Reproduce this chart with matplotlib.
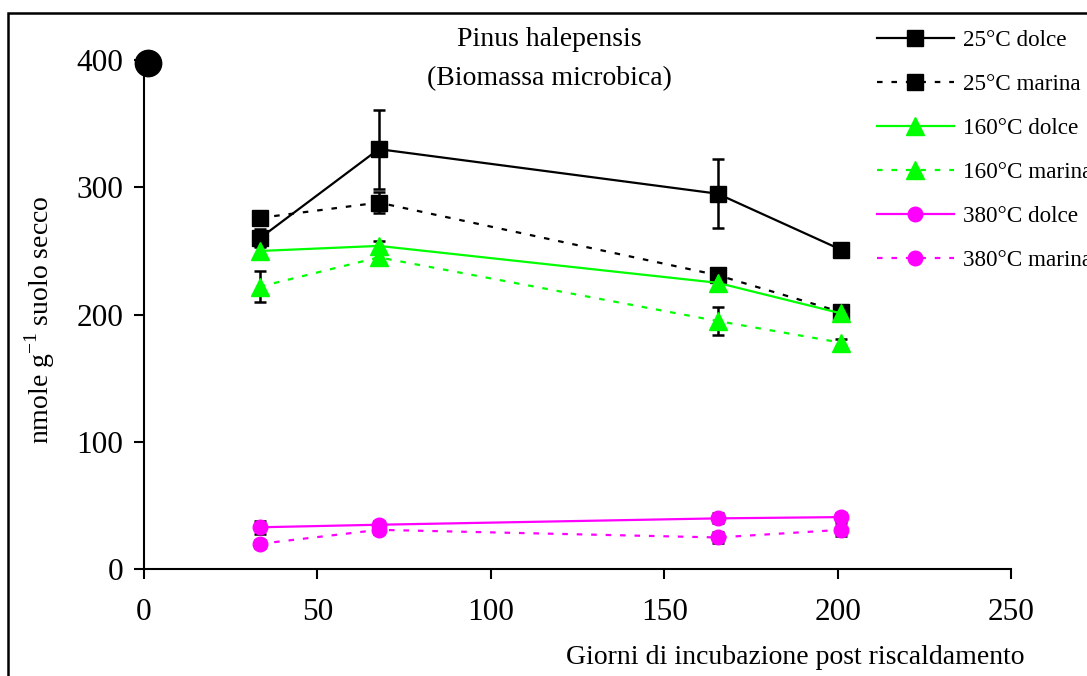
import matplotlib
matplotlib.use("Agg")
import matplotlib.pyplot as plt
from matplotlib.patches import Rectangle

plt.rcParams['font.family'] = ['Liberation Serif', 'DejaVu Serif']
plt.rcParams['mathtext.fontset'] = 'custom'
plt.rcParams['mathtext.rm'] = 'Liberation Serif'

days = [33.4, 67.7, 165.4, 201.0]
control_day = [1.2]
control_val = [398]

series_names = ["25°C dolce", "25°C marina", "160°C dolce", "160°C marina",
                "380°C dolce", "380°C marina"]
v25_dolce = [260, 330, 295, 251]
e25_dolce = [7, 31, 27, 3]
v25_marina = [276, 288, 231, 202]
e25_marina = [4, 8, 4, 3]
v160_dolce = [250, 254, 225, 201]
e160_dolce = [4, 4, 3, 3]
v160_marina = [222, 245, 195, 178]
e160_marina = [12, 5, 11, 3]
v380_dolce = [33, 35, 40, 41]
e380_dolce = [5, 3, 4, 3]
v380_marina = [20, 31, 25, 31]
e380_marina = [3, 3, 4, 5]

values = [v25_dolce, v25_marina, v160_dolce, v160_marina, v380_dolce, v380_marina]
errors = [e25_dolce, e25_marina, e160_dolce, e160_marina, e380_dolce, e380_marina]
colors = ['black', 'black', '#00FF00', '#00FF00', '#FF00FF', '#FF00FF']
markers = ['s', 's', '^', '^', 'o', 'o']
msizes = [11, 11, 12.5, 12.5, 10.5, 10.5]
dotted = (0, (2.5, 4))
styles = ['-', dotted, '-', dotted, '-', dotted]

fig = plt.figure(figsize=(10.87, 6.76), dpi=100)
ax = fig.add_axes([144/1087, 1-569.3/676, (1011-144)/1087, (569.3-60)/676])

handles = []
for name, v, e, c, m, ms, ls in zip(series_names, values, errors, colors, markers, msizes, styles):
    ax.errorbar(days, v, yerr=e, fmt='none', ecolor='black', elinewidth=1.8,
                capsize=4.5, capthick=1.8, zorder=2)
    h, = ax.plot(days, v, color=c, linestyle=ls, linewidth=1.6, marker=m,
                 markersize=ms, markerfacecolor=c, markeredgecolor=c, label=name, zorder=3)
    handles.append(h)

ax.plot(control_day, control_val, 'o', color='black', markersize=19, zorder=4, clip_on=False)

ax.set_xlim(0, 250)
ax.set_ylim(0, 400)
ax.set_xticks([0, 50, 100, 150, 200, 250])
ax.set_yticks([0, 100, 200, 300, 400])
for s in ['top', 'right']:
    ax.spines[s].set_visible(False)
for s in ['left', 'bottom']:
    ax.spines[s].set_linewidth(1.5)
ax.tick_params(axis='both', direction='out', length=7, width=1.5, labelsize=22.5, pad=8)
ax.tick_params(axis='x', pad=14)

fig.text(549/1087, 1-40/676, "Pinus halepensis", ha='center', va='center', fontsize=20)
fig.text(549/1087, 1-79/676, "(Biomassa microbica)", ha='center', va='center', fontsize=20)
fig.text(1025/1087, 1-658/676, "Giorni di incubazione post riscaldamento",
         ha='right', va='center', fontsize=20)
fig.text(40/1087, 1-320/676, "nmole g$^{-1}$ suolo secco", rotation=90,
         ha='center', va='center', fontsize=20)

leg = fig.legend(handles=handles, loc='upper left', bbox_to_anchor=(877/1087, 1-30/676),
                 frameon=False, fontsize=16.7, handlelength=3.3, handletextpad=0.4,
                 labelspacing=0.98, borderaxespad=0, borderpad=0)

fig.patches.append(Rectangle((8/1087, -0.1), 1.2, 1.1-13/676, transform=fig.transFigure,
                             fill=False, edgecolor='black', linewidth=1.8))

fig.savefig("out.png", dpi=100)
